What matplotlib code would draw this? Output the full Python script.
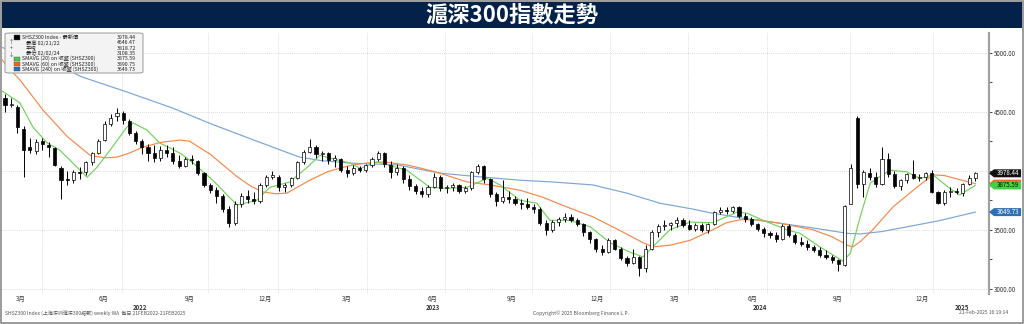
import numpy as np
import matplotlib.pyplot as plt
from matplotlib.patches import Rectangle, Polygon, FancyBboxPatch

plt.rcParams['font.family'] = ['Noto Sans CJK TC', 'DejaVu Sans']

W, H = 1024, 324

# weekly candles, week 0 = 21 Feb 2022
opens = [4620, 4560, 4540, 4350, 4200, 4170, 4250, 4220, 4190, 4020,
         3930, 3920, 3990, 3990, 4070, 4150, 4260, 4400, 4460, 4490,
         4420, 4320, 4250, 4200, 4150, 4110, 4180, 4150, 4080, 4040,
         4100, 4080, 3980, 3880, 3840, 3790, 3680, 3560, 3720, 3790,
         3760, 3740, 3880, 3950, 3950, 3860, 3880, 3940, 4070, 4160,
         4200, 4140, 4150, 4090, 4100, 4010, 3980, 4020, 4010, 4050,
         4100, 4150, 4050, 3990, 4020, 3930, 3870, 3830, 3800, 3860,
         3950, 3850, 3860, 3880, 3830, 3850, 3990, 4040, 3930, 3800,
         3740, 3780, 3760, 3730, 3720, 3690, 3680, 3560, 3500, 3570,
         3590, 3610, 3580, 3550, 3480, 3420, 3340, 3310, 3410, 3340,
         3260, 3220, 3270, 3180, 3340, 3480, 3530, 3540, 3560, 3580,
         3540, 3510, 3540, 3500, 3550, 3650, 3670, 3660, 3690, 3620,
         3590, 3550, 3510, 3470, 3460, 3420, 3530, 3460, 3400, 3380,
         3350, 3330, 3290, 3270, 3240, 3200, 3720, 4450, 3890, 3980,
         3950, 3890, 4100, 3970, 3870, 3920, 3970, 3940, 3950, 3980,
         3820, 3730, 3820, 3830, 3810, 3890, 3940]
highs = [4650, 4620, 4560, 4380, 4280, 4270, 4280, 4240, 4200, 4040,
         4000, 4010, 4030, 4080, 4160, 4270, 4420, 4480, 4530, 4510,
         4440, 4340, 4270, 4230, 4220, 4210, 4220, 4200, 4130, 4120,
         4130, 4090, 3990, 3900, 3860, 3800, 3700, 3740, 3810, 3840,
         3820, 3900, 3960, 4000, 3960, 3900, 3950, 4080, 4180, 4270,
         4220, 4170, 4160, 4130, 4110, 4040, 4050, 4040, 4060, 4120,
         4170, 4160, 4080, 4060, 4040, 3960, 3890, 3860, 3880, 3980,
         3960, 3880, 3900, 3890, 3870, 4000, 4060, 4050, 3940, 3820,
         3920, 3830, 3790, 3760, 3770, 3720, 3690, 3580, 3580, 3610,
         3640, 3630, 3600, 3560, 3490, 3430, 3370, 3430, 3420, 3350,
         3280, 3340, 3280, 3370, 3500, 3550, 3580, 3570, 3610, 3600,
         3580, 3560, 3560, 3560, 3660, 3690, 3690, 3700, 3700, 3640,
         3610, 3560, 3520, 3490, 3480, 3550, 3550, 3470, 3440, 3410,
         3370, 3350, 3330, 3290, 3250, 3710, 4060, 4460, 4010, 4020,
         3990, 4200, 4150, 4000, 3930, 3980, 4090, 3970, 3990, 4010,
         3830, 3840, 3860, 3850, 3900, 3960, 3990]
lows = [4500, 4540, 4320, 3950, 4150, 4140, 4180, 4120, 4040, 3760,
        3880, 3900, 3930, 3960, 4050, 4140, 4250, 4380, 4420, 4400,
        4300, 4230, 4140, 4080, 4070, 4080, 4120, 4060, 4020, 4030,
        4060, 3960, 3860, 3810, 3730, 3650, 3520, 3540, 3690, 3730,
        3720, 3730, 3860, 3930, 3830, 3820, 3860, 3930, 4060, 4150,
        4110, 4080, 4060, 4030, 3990, 3950, 3960, 3990, 3990, 4030,
        4080, 4030, 3940, 3960, 3900, 3840, 3800, 3780, 3780, 3850,
        3830, 3810, 3830, 3810, 3810, 3840, 3970, 3900, 3780, 3700,
        3730, 3730, 3710, 3680, 3680, 3640, 3540, 3460, 3480, 3530,
        3570, 3570, 3530, 3450, 3390, 3310, 3290, 3300, 3330, 3240,
        3190, 3210, 3110, 3140, 3330, 3440, 3500, 3500, 3520, 3520,
        3500, 3490, 3480, 3470, 3540, 3630, 3630, 3640, 3600, 3570,
        3530, 3490, 3440, 3430, 3400, 3410, 3440, 3380, 3360, 3330,
        3310, 3270, 3250, 3220, 3150, 3190, 3720, 3850, 3780, 3920,
        3860, 3880, 3950, 3850, 3840, 3900, 3930, 3910, 3920, 3810,
        3720, 3710, 3780, 3800, 3790, 3880, 3910]
closes = [4560, 4560, 4370, 4180, 4180, 4240, 4230, 4200, 4050, 3920,
          3920, 3990, 3980, 4070, 4150, 4250, 4400, 4450, 4490, 4430,
          4320, 4250, 4200, 4150, 4110, 4180, 4150, 4080, 4040, 4100,
          4090, 3980, 3880, 3840, 3790, 3680, 3560, 3720, 3790, 3760,
          3740, 3880, 3950, 3960, 3860, 3880, 3940, 4070, 4160, 4200,
          4140, 4150, 4090, 4110, 4010, 3980, 4020, 4010, 4050, 4100,
          4150, 4060, 3990, 4020, 3930, 3870, 3830, 3800, 3860, 3950,
          3850, 3860, 3880, 3830, 3850, 3990, 4040, 3930, 3800, 3740,
          3780, 3760, 3730, 3720, 3690, 3680, 3560, 3500, 3570, 3590,
          3610, 3580, 3550, 3480, 3420, 3340, 3310, 3410, 3340, 3260,
          3220, 3270, 3180, 3340, 3480, 3530, 3540, 3560, 3580, 3540,
          3510, 3540, 3500, 3550, 3650, 3670, 3660, 3690, 3620, 3590,
          3550, 3510, 3470, 3460, 3420, 3530, 3460, 3400, 3380, 3350,
          3330, 3290, 3270, 3240, 3210, 3700, 4020, 3890, 3990, 3950,
          3890, 4100, 3970, 3870, 3920, 3970, 3940, 3950, 3980, 3820,
          3730, 3820, 3830, 3820, 3890, 3940, 3978.44]

# moving averages on close, sampled along the week axis
ma20_x = [-0.8, -0.3, 2.4, 4.5, 6.8, 8.8, 11.6, 13.2, 14.8, 16.9,
          19.6, 20.6, 22.8, 24.9, 28.1, 29.7, 33.4, 37.3, 40.5, 42.6,
          45.8, 48.6, 50.6, 55.5, 57.1, 59.8, 64.6, 68.3, 71.1, 74.3,
          77.5, 79.6, 82.8, 85.5, 87.6, 90.8, 94.1, 97.3, 100.5, 102.6,
          104.8, 106.9, 110.1, 113.8, 117.7, 119.3, 121.9, 125.7, 127.8, 131.0,
          134.7, 135.9, 137.5, 139.1, 140.2, 142.3, 145.0, 147.1, 149.2, 151.9,
          153.5, 156.0]
ma20 = [4685, 4670, 4575, 4370, 4235, 4175, 4030, 3945, 4030, 4175,
        4370, 4405, 4345, 4235, 4150, 4090, 3920, 3710, 3750, 3860,
        3905, 4030, 4130, 4065, 4020, 4075, 4005, 3860, 3850, 3860,
        3935, 3880, 3750, 3725, 3580, 3580, 3525, 3390, 3310, 3270,
        3390, 3500, 3565, 3560, 3650, 3640, 3580, 3500, 3470, 3355,
        3235, 3300, 3610, 3895, 3935, 4005, 3990, 3935, 3965, 3850,
        3795, 3875.59]

ma60_x = [-0.8, 1.3, 2.4, 6.1, 10.0, 13.7, 16.0, 18.0, 20.0, 22.2,
          25.0, 28.1, 29.7, 33.0, 37.3, 39.5, 41.5, 43.5, 45.3, 49.0,
          52.0, 55.5, 58.0, 60.8, 64.6, 67.0, 69.9, 74.3, 78.0, 82.8,
          86.5, 90.0, 94.5, 99.0, 102.6, 104.2, 107.0, 110.1, 113.8, 116.0,
          118.2, 121.0, 124.6, 129.9, 133.0, 135.4, 136.3, 137.5, 139.5, 142.8,
          146.6, 149.2, 151.0, 152.4, 156.0]
ma60 = [4960, 4830, 4770, 4515, 4290, 4130, 4110, 4115, 4150, 4200,
        4240, 4260, 4250, 4140, 3950, 3870, 3820, 3805, 3810, 3920,
        3995, 4045, 4065, 4075, 4050, 4020, 3980, 3905, 3880, 3835,
        3775, 3700, 3610, 3490, 3390, 3355, 3370, 3410, 3500, 3560,
        3585, 3585, 3555, 3500, 3440, 3370, 3355, 3400, 3500, 3695,
        3860, 3965, 3960, 3940, 3890.75]

ma240_x = [-0.8, 5.0, 10.0, 12.1, 20.0, 27.0, 33.0, 40.0, 47.4, 51.0,
           55.5, 59.0, 63.0, 66.0, 69.9, 76.0, 82.8, 88.0, 94.5, 100.0,
           105.3, 110.1, 113.8, 119.0, 124.6, 130.0, 135.4, 137.5, 141.0, 145.0,
           150.0, 156.0]
ma240 = [5050, 4950, 4860, 4800, 4660, 4530, 4400, 4260, 4115, 4085,
         4065, 4058, 4050, 4020, 3980, 3950, 3920, 3905, 3880, 3810,
         3725, 3680, 3640, 3595, 3555, 3515, 3470, 3465, 3485, 3525,
         3575, 3649.73]

month_pos = [2.5, 15.8, 29.7, 41.8, 55.0, 68.8, 81.5, 95.2, 107.7, 120.1, 133.8, 147.4]
month_labels = ['3月', '6月', '9月', '12月'] * 3
year_pos = [21.7, 68.8, 121.4, 153.9]
year_labels = ['2022', '2023', '2024', '2025']
grid_pos = [5.9, 18.8, 32.6, 43.9, 58.2, 70.7, 84.7, 97.3, 109.8, 122.5, 135.9, 149.2]
price_ticks = [3000, 3500, 4000, 4500, 5000]

c_green, c_orange, c_blue = '#6fd35a', '#f5884a', '#7aa6d8'


def fx(px):
    return px / W


def fy(py):
    return 1 - py / H


fig = plt.figure(figsize=(W / 100, H / 100), dpi=100)
fig.patch.set_facecolor('white')

# title bar
fig.add_artist(Rectangle((fx(2), fy(28)), fx(1020), 26 / H, transform=fig.transFigure,
                         facecolor='#04214a', edgecolor='none'))
fig.text(0.5, fy(15.5), '滬深300指數走勢', color='white', fontsize=16, fontweight='bold',
         ha='center', va='center')
fig.add_artist(Rectangle((fx(1), fy(323)), fx(1022), 322 / H, transform=fig.transFigure,
                         facecolor='none', edgecolor='#8a8a8a', lw=1.2))

ax = fig.add_axes([fx(2), fy(294), 987 / W, 261 / H])

o = np.array(opens)
h = np.array(highs)
l = np.array(lows)
c = np.array(closes)
x = np.arange(len(c))
up = c >= o
bottom = np.minimum(o, c)
body = np.maximum(np.abs(c - o), 6)

ax.plot(ma240_x, ma240, color=c_blue, lw=0.85, zorder=2)
ax.plot(ma60_x, ma60, color=c_orange, lw=0.85, zorder=2)
ax.plot(ma20_x, ma20, color=c_green, lw=0.85, zorder=2)

ax.vlines(x, l, h, color='black', lw=0.7, zorder=3)
ax.bar(x[up], body[up], bottom=bottom[up], width=0.5, facecolor='white',
       edgecolor='black', lw=0.5, zorder=4)
ax.bar(x[~up], body[~up], bottom=bottom[~up], width=0.5, facecolor='black',
       edgecolor='black', lw=0.5, zorder=4)

ax.set_xlim(-0.48, 158.2)
ax.set_ylim(2956, 5167)

for g in grid_pos:
    ax.axvline(g, color='#d0d0d0', ls=(0, (1, 1.5)), lw=0.6, zorder=0)
for v in price_ticks:
    ax.axhline(v, color='#d0d0d0', ls=(0, (1, 1.5)), lw=0.6, zorder=0)

for s in ['left', 'top', 'bottom']:
    ax.spines[s].set_visible(False)
ax.spines['right'].set_color('#a0a0a0')
ax.spines['right'].set_linewidth(1.6)

# the 4000 label sits under the last-price tag, so it is left blank
ax.yaxis.tick_right()
ax.set_yticks(price_ticks)
ax.set_yticks([3250, 3750, 4250, 4750], minor=True)
ax.set_yticklabels(['' if v == 4000 else f'{v:.2f}' for v in price_ticks])
ax.tick_params(axis='y', which='both', direction='out', length=2.5, width=0.7,
               color='#444444', labelsize=4.5, labelcolor='#333333', pad=1)

ax.set_xticks(month_pos)
ax.set_xticklabels(month_labels)
ax.tick_params(axis='x', length=0, pad=1.0, labelsize=4.5, labelcolor='#333333')
for p, lab in zip(year_pos, year_labels):
    ax.text(p, -0.052, lab, transform=ax.get_xaxis_transform(), ha='center', va='center',
            fontsize=4.3, color='#333333', fontweight='bold')

# value tags on the price axis
tr = ax.get_yaxis_transform()
half = 34


def tag(val, face, txt=None, txt_color='white'):
    pts = [(1.0, val), (1.005, val + half), (1.0325, val + half),
           (1.0325, val - half), (1.005, val - half)]
    ax.add_patch(Polygon(pts, closed=True, transform=tr, facecolor=face,
                         edgecolor='none', clip_on=False, zorder=6))
    if txt:
        ax.text(1.019, val, txt, transform=tr, ha='center', va='center',
                fontsize=4.5, color=txt_color, zorder=7, clip_on=False)


tag(closes[-1], '#111111', f'{closes[-1]:.2f}')
tag(ma60[-1], '#f26522')
tag(ma20[-1], '#44d044', f'{ma20[-1]:.2f}', '#111111')
tag(ma240[-1], '#2f6fb4', f'{ma240[-1]:.2f}')

# legend panel
fig.add_artist(FancyBboxPatch((fx(5), fy(73)), fx(138), 40 / H, transform=fig.transFigure,
                              boxstyle='round,pad=0,rounding_size=0.004',
                              facecolor='#f3f3f3', edgecolor='#9a9a9a', lw=0.7, zorder=10))
rows = [
    ('SHSZ300 Index - 最新價', f'{closes[-1]:.2f}', 'black'),
    ('最高 02/21/22', '4646.47', None),
    ('平均', '3818.72', None),
    ('最低 02/02/24', '3108.35', None),
    ('SMAVG (20) on 收盤 (SHSZ300)', f'{ma20[-1]:.2f}', '#44d044'),
    ('SMAVG (60) on 收盤 (SHSZ300)', f'{ma60[-1]:.2f}', '#f26522'),
    ('SMAVG (240) on 收盤 (SHSZ300)', f'{ma240[-1]:.2f}', '#2f6fb4'),
]
marks = [None, '↑', '+', '↓', None, None, None]
for k, (lab, val, col) in enumerate(rows):
    yy = 37.5 + k * 5.3
    if col is not None:
        fig.add_artist(Rectangle((fx(14), fy(yy + 2)), fx(6), 4 / H, transform=fig.transFigure,
                                 facecolor=col, edgecolor='#555555', lw=0.3, zorder=11))
    else:
        fig.text(fx(11), fy(yy), marks[k], fontsize=3.8, color='#333333', ha='center',
                 va='center', zorder=11)
    xt = 22 if k in (0, 4, 5, 6) else 26
    fig.text(fx(xt), fy(yy), lab, fontsize=3.8, color='#222222', ha='left', va='center', zorder=11)
    fig.text(fx(136), fy(yy), val, fontsize=3.8, color='#222222', ha='right', va='center', zorder=11)

# footer
fig.text(fx(5), fy(313), 'SHSZ300 Index (上海深圳滬深300指數) weekly:WA  每日 21FEB2022-21FEB2025',
         fontsize=3.6, color='#555555', ha='left', va='center')
fig.text(fx(533), fy(313), 'Copyright© 2025 Bloomberg Finance L.P.', fontsize=3.6,
         color='#555555', ha='left', va='center')
fig.text(fx(1008), fy(313), '21-Feb-2025 16:19:14', fontsize=3.6, color='#555555',
         ha='right', va='center')

fig.savefig('out.png', dpi=100)
